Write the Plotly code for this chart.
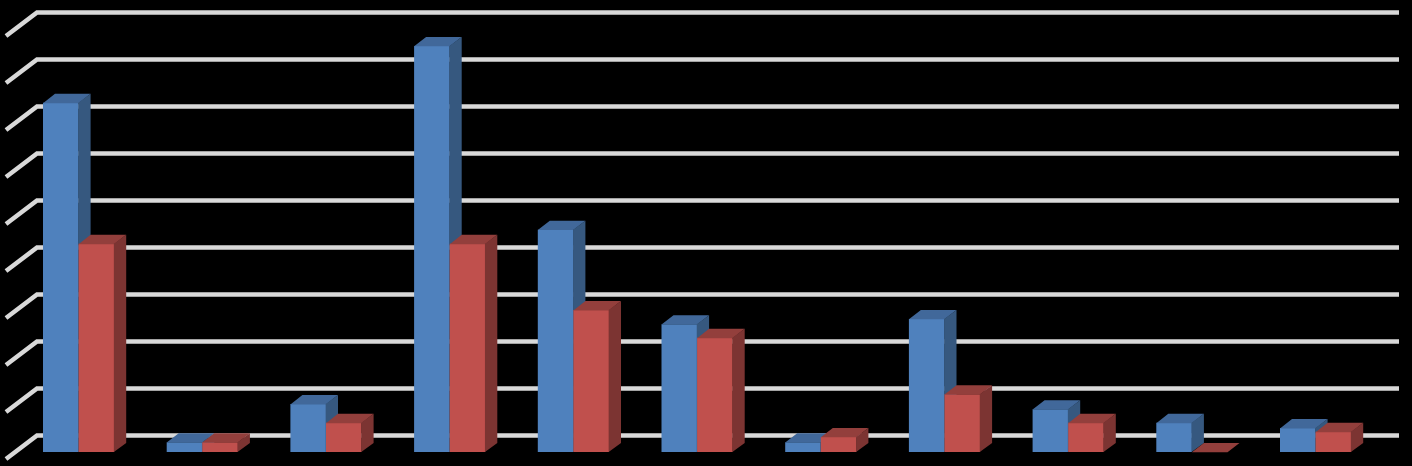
import plotly.graph_objects as go

# Data (no axis or category labels are shown in the reference)
categories = list(range(11))
series_a = [7.43, 0.21, 1.02, 8.64, 4.73, 2.72, 0.21, 2.83, 0.91, 0.62, 0.51]
series_b = [4.43, 0.21, 0.62, 4.43, 3.02, 2.43, 0.32, 1.23, 0.62, 0.0, 0.43]
grid_values = list(range(10))

W, H = 1412, 466
PX_X = 123.7          # pixels per category
PX_Y = 47.0           # pixels per value unit
X0, Y0 = 78.6, 452.0  # pixel position of first group's centre and of value 0
BAR = 35.6 / PX_X
DX, DY = 12 / PX_X, 9 / PX_Y                # bar depth
WALL_DY = 16.5 / PX_Y                       # bar plane to back wall
FLOOR_DY = -7 / PX_Y                        # bar plane to left end of floor diagonal
GRID_RIGHT = (1399 - X0) / PX_X
GRID_LEFT = (37 - X0) / PX_X
GRID_FRONT = (6 - X0) / PX_X
SEAM_X, SEAM_Y = 0.35 / PX_X, 0.35 / PX_Y   # faces tuck slightly under the front

xr = [-X0 / PX_X, (W - X0) / PX_X]
yr = [(Y0 - H) / PX_Y, Y0 / PX_Y]


def faces(values, offset):
    """Side and top faces of each bar, in data units, from the values."""
    sx, sy, tx, ty = [], [], [], []
    for c, v in zip(categories, values):
        left = c + offset
        right = left + BAR
        sx += [right - SEAM_X, right + DX, right + DX, right - SEAM_X, right - SEAM_X, None]
        sy += [0, DY, v + DY, v, 0, None]
        tx += [left, left + DX, right + DX, right, left, None]
        ty += [v - SEAM_Y, v + DY, v + DY, v - SEAM_Y, v - SEAM_Y, None]
    return sx, sy, tx, ty


def poly(x, y, color, xa, ya):
    return go.Scatter(x=x, y=y, mode="lines", fill="toself", fillcolor=color,
                      line=dict(width=0, color=color), hoverinfo="skip",
                      showlegend=False, xaxis=xa, yaxis=ya)


fig = go.Figure()

# back wall and floor gridlines
gx, gy = [], []
for v in grid_values:
    gx += [GRID_FRONT, GRID_LEFT, GRID_RIGHT, None]
    gy += [v + FLOOR_DY, v + WALL_DY, v + WALL_DY, None]
fig.add_trace(go.Scatter(x=gx, y=gy, mode="lines", hoverinfo="skip", showlegend=False,
                         line=dict(color="#d9d9d9", width=4.5), xaxis="x", yaxis="y"))

series = [
    (series_a, -BAR, "#4f81bd", "#36587f", "#41689a", "x2", "y2"),
    (series_b, 0.0, "#c0504d", "#7c3432", "#933f3c", "x3", "y3"),
]
for values, off, front, side, top, xa, ya in series:
    sx, sy, tx, ty = faces(values, off)
    fig.add_trace(go.Bar(x=categories, y=values, width=BAR,
                         offset=off, marker=dict(color=front, line=dict(width=0)),
                         showlegend=False, hoverinfo="skip", xaxis=xa, yaxis=ya))
    fig.add_trace(poly(tx, ty, top, xa, ya))
    fig.add_trace(poly(sx, sy, side, xa, ya))

ax = dict(visible=False, showgrid=False, zeroline=False, fixedrange=True)
fig.update_layout(
    width=W, height=H, margin=dict(l=0, r=0, t=0, b=0),
    paper_bgcolor="#000000", plot_bgcolor="#000000", showlegend=False, barmode="overlay",
    xaxis=dict(ax, range=xr, domain=[0, 1]),
    yaxis=dict(ax, range=yr, domain=[0, 1]),
    xaxis2=dict(ax, range=xr, overlaying="x"),
    yaxis2=dict(ax, range=yr, overlaying="y"),
    xaxis3=dict(ax, range=xr, overlaying="x"),
    yaxis3=dict(ax, range=yr, overlaying="y"),
)

fig.write_html(
    "out.html",
    config=dict(displayModeBar=False, responsive=False),
    post_script="document.body.style.margin='0';document.body.style.background='#000';"
                "document.body.style.overflow='hidden';",
)
